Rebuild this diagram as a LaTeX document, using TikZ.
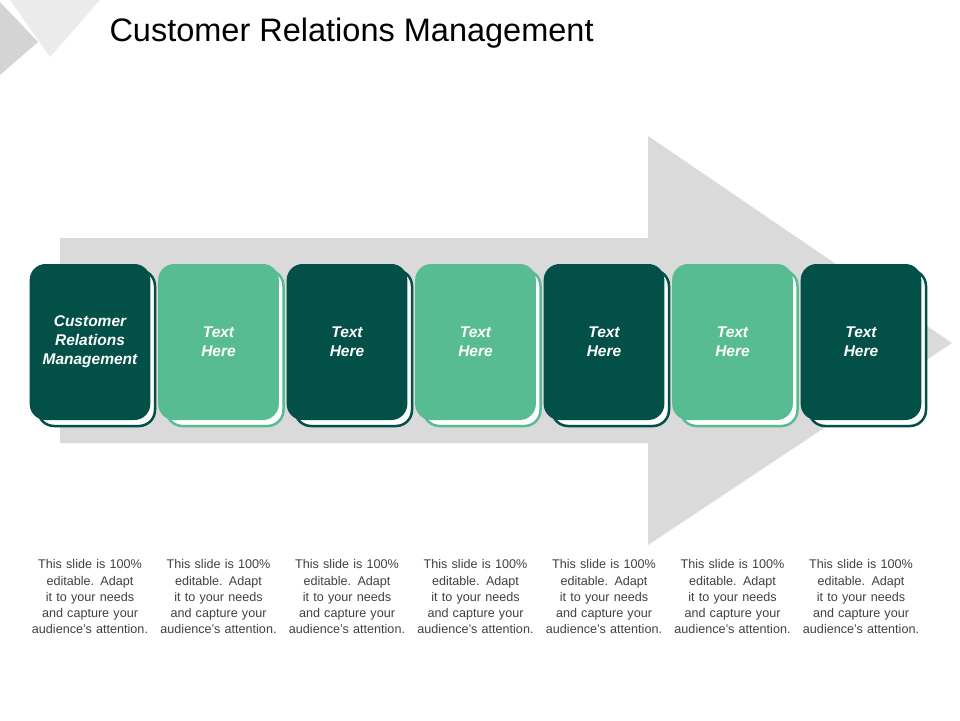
\documentclass[tikz,border=0pt]{standalone}
\usepackage{fontspec}
\setmainfont{Liberation Sans}
\usetikzlibrary{positioning}
\definecolor{darkgreen}{RGB}{2,80,72}
\definecolor{lightgreen}{RGB}{88,188,146}
\definecolor{arrowgray}{RGB}{218,218,218}
\tikzstyle{card} = [rectangle, rounded corners = 16pt, minimum width = 117pt, minimum height = 156pt, text width = 114pt, align = center, text = white, font = \fontsize{15.5}{19}\selectfont\bfseries\itshape]
\tikzstyle{backcard} = [rectangle, rounded corners = 16pt, minimum width = 117pt, minimum height = 156pt, fill = white, line width = 2.5pt]
\tikzstyle{note} = [text width = 132pt, align = center, font = \fontsize{12.6}{16.2}\selectfont, text = black!75]
\begin{document}
\begin{tikzpicture}[x=1pt, y=-1pt]
	\useasboundingbox (0,0) rectangle (960,720);

	% corner decoration
	\fill[black!8] (10,0) -- (100,0) -- (50,57) -- cycle;
	\fill[black!17] (0,2) -- (38,42) -- (0,75) -- cycle;

	% title
	\node[anchor = west, font = \fontsize{32.5}{38}\selectfont] (title) at (106,33) {Customer Relations Management};

	% big arrow
	\fill[arrowgray] (60,238) -- (648,238) -- (648,136) -- (952,343) -- (648,545) -- (648,443) -- (60,443) -- cycle;

	% cards
	\foreach \i/\col/\txt in {0/darkgreen/{Customer\\Relations\\Management}, 1/lightgreen/{Text\\Here}, 2/darkgreen/{Text\\Here}, 3/lightgreen/{Text\\Here}, 4/darkgreen/{Text\\Here}, 5/lightgreen/{Text\\Here}, 6/darkgreen/{Text\\Here}} {
		\node[backcard, draw = \col] (back\i) at ({96.5+128.5*\i},348) {};
		\node[card, fill = \col] (card\i) at ({90+128.5*\i},342) {\txt};
		\node[note, below = 136pt of card\i.south, anchor = north] (note\i) {This slide is 100\% editable. Adapt it to your needs and capture your audience's attention.};
	}

\end{tikzpicture}
\end{document}
